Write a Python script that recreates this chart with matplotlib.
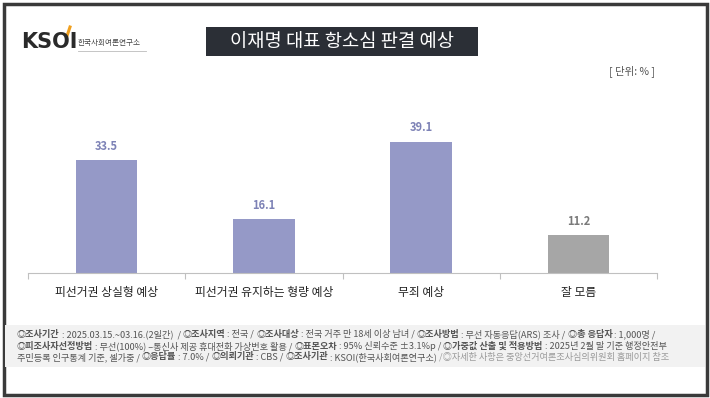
import matplotlib.pyplot as plt
from matplotlib.patches import Rectangle
from matplotlib.lines import Line2D

plt.rcParams['font.family'] = ['Noto Sans CJK KR', 'DejaVu Sans']

categories = ['피선거권 상실형 예상', '피선거권 유지하는 형량 예상', '무죄 예상', '잘 모름']
values = [33.5, 16.1, 39.1, 11.2]
bar_colors = ['#9599c7', '#9599c7', '#9599c7', '#a6a6a6']
label_colors = ['#7d82b6', '#7d82b6', '#7d82b6', '#7a7a7a']

title = '이재명 대표 항소심 판결 예상'
unit = '[ 단위: % ]'

# 각주 (텍스트, 굵게 여부)
notes = [
    [('◎조사기간', True), (' : 2025.03.15.~03.16.(2일간)  / ', False), ('◎조사지역', True), (' : 전국 / ', False),
     ('◎조사대상', True), (' : 전국 거주 만 18세 이상 남녀 / ', False), ('◎조사방법', True),
     (' : 무선 자동응답(ARS) 조사 / ', False), ('◎총 응답자', True), (' : 1,000명 /', False)],
    [('◎피조사자선정방법', True), (' : 무선(100%) –통신사 제공 휴대전화 가상번호 활용 / ', False), ('◎표본오차', True),
     (' : 95% 신뢰수준 ±3.1%p / ', False), ('◎가중값 산출 및 적용방법', True), (' : 2025년 2월 말 기준 행정안전부', False)],
    [('주민등록 인구통계 기준, 셀가중 / ', False), ('◎응답률', True), (' : 7.0% / ', False), ('◎의뢰기관', True),
     (' : CBS / ', False), ('◎조사기관', True), (' : KSOI(한국사회여론연구소) ', False),
     ('/◎자세한 사항은 중앙선거여론조사심의위원회 홈페이지 참조', None)],
]

W, H = 710, 398
fig = plt.figure(figsize=(W / 100, H / 100), dpi=100)
fig.patch.set_facecolor('white')

def px(x, y):
    return x / W, 1 - y / H

# 바깥 테두리
fig.add_artist(Rectangle(px(3.5, 394.5), 703 / W, 391 / H, transform=fig.transFigure,
                         fill=False, edgecolor='#3a3a3a', linewidth=2.5))

# 각주 배경
fig.add_artist(Rectangle(px(5, 367), 700 / W, 42 / H, transform=fig.transFigure,
                         facecolor='#f2f2f2', edgecolor='none'))

# 제목 박스
fig.add_artist(Rectangle(px(206, 56), 272 / W, 29 / H, transform=fig.transFigure,
                         facecolor='#2b2f36', edgecolor='none'))
fig.text(*px(342, 42), title, color='white', fontsize=13.5, ha='center', va='center')

# 로고
fig.text(*px(21, 42), 'KSOI', color='#2a2a2a', fontsize=15, fontweight='bold',
         ha='left', va='center', family='DejaVu Sans')
fig.add_artist(Line2D([67 / W, 70 / W], [1 - 36 / H, 1 - 27 / H], color='#f0a020', linewidth=2.2,
                      transform=fig.transFigure))
fig.text(*px(78, 43), '한국사회여론연구소', color='#444444', fontsize=5.5, ha='left', va='center')
fig.add_artist(Line2D([78 / W, 146 / W], [1 - 51 / H, 1 - 51 / H], color='#bbbbbb', linewidth=0.6,
                      transform=fig.transFigure))

fig.text(*px(655, 71), unit, color='#555555', fontsize=7.5, ha='right', va='center')

# 막대 그래프
ax = fig.add_axes([28 / W, 1 - 273 / H, 629 / W, 173 / H])
x = list(range(len(categories)))
ax.bar(x, values, width=0.39, color=bar_colors)
for xi, v, c in zip(x, values, label_colors):
    ax.text(xi, v + 2.2, f'{v:.1f}', ha='center', va='bottom', color=c,
            fontsize=8, fontweight='bold')
ax.set_xlim(-0.5, 3.5)
ax.set_ylim(0, 51.5)
ax.set_yticks([])
ax.set_xticks([-0.5, 0.5, 1.5, 2.5, 3.5])
ax.set_xticklabels([])
ax.tick_params(axis='x', length=4, color='#c0c0c0', width=0.8)
for xi, c in zip(x, categories):
    ax.text(xi, -4.0, c, ha='center', va='top', fontsize=8.5, color='#222222')
for s in ['left', 'right', 'top']:
    ax.spines[s].set_visible(False)
ax.spines['bottom'].set_color('#c0c0c0')
ax.spines['bottom'].set_linewidth(0.8)
ax.patch.set_visible(False)

# 각주 텍스트 (굵기 섞어서 이어 붙이기)
fig.canvas.draw()
renderer = fig.canvas.get_renderer()
line_y = [334, 346, 357]
for parts, yy in zip(notes, line_y):
    cur = 17
    for txt, bold in parts:
        color = '#9a9a9a' if bold is None else '#555555'
        t = fig.text(cur / W, 1 - yy / H, txt, fontsize=6.6, va='center', ha='left',
                     fontweight='bold' if bold else 'normal', color=color)
        bb = t.get_window_extent(renderer=renderer)
        cur += bb.width

fig.savefig('out.png', dpi=100)
